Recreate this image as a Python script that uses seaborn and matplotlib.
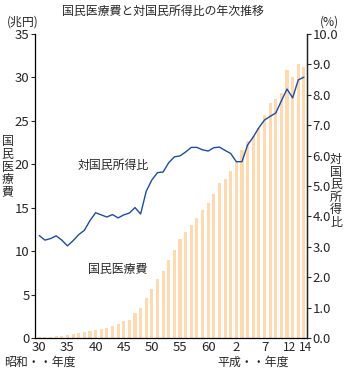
import matplotlib
matplotlib.use("Agg")
import matplotlib.pyplot as plt
import matplotlib.transforms as mtransforms
import seaborn as sns
import pandas as pd
import numpy as np

# ---- data ----
years = [f"S{y}" for y in range(30, 64)] + [f"H{y}" for y in range(1, 15)]
expenditure = [0.10, 0.15, 0.15, 0.20, 0.27, 0.35, 0.42, 0.54, 0.65, 0.80,
               0.92, 1.00, 1.15, 1.38, 1.60, 1.90, 2.10, 2.90, 3.50, 4.60,
               5.60, 6.80, 7.70, 9.00, 10.10, 11.40, 12.20, 13.00, 13.80, 14.70,
               15.60, 16.60, 17.80, 18.30, 19.25, 20.30, 21.70, 22.70, 23.20, 24.20,
               25.70, 27.10, 27.50, 28.20, 30.80, 30.10, 31.60, 31.20]
ratio = [3.37, 3.22, 3.27, 3.36, 3.22, 3.03, 3.20, 3.40, 3.54, 3.86,
         4.12, 4.05, 3.98, 4.06, 3.95, 4.05, 4.11, 4.29, 4.08, 4.83,
         5.20, 5.44, 5.46, 5.77, 5.96, 5.99, 6.12, 6.27, 6.27, 6.19,
         6.15, 6.26, 6.28, 6.17, 6.07, 5.80, 5.80, 6.35, 6.61, 6.92,
         7.17, 7.29, 7.40, 7.80, 8.19, 7.90, 8.49, 8.58]
xtick_pos = [0, 5, 10, 15, 20, 25, 30, 35, 40, 45, 47]
xtick_labels = ["30", "35", "40", "45", "50", "55", "60", "2", "7", "12", "14"]
left_ticks = [0, 5, 10, 15, 20, 25, 30, 35]
right_ticks = [0, 1, 2, 3, 4, 5, 6, 7, 8, 9, 10]

df = pd.DataFrame({"year": years, "exp": expenditure, "ratio": ratio,
                   "idx": np.arange(len(years))})

sns.set_style("ticks")
plt.rcParams["font.family"] = ["Noto Sans CJK JP", "DejaVu Sans"]

fig = plt.figure(figsize=(3.45, 3.71), dpi=100)
ax = fig.add_axes([35/345, 33/371, (307-35)/345, (338-34)/371])

sns.barplot(data=df, x="year", y="exp", color="#FFD9B0", saturation=1,
            width=0.55, ax=ax, linewidth=0)
ax.set_ylim(0, 35)
ax.set_xlim(-0.76, 47.55)
ax.set_yticks(left_ticks)
ax.set_yticklabels([str(t) for t in left_ticks], fontsize=9.5)
ax.set_xticks(xtick_pos)
ax.set_xticklabels(xtick_labels, fontsize=9.5)
ax.tick_params(axis="x", length=0, pad=2)
ax.tick_params(axis="y", length=3, width=0.8, pad=1)
ax.set_xlabel("")
ax.set_ylabel("")
for s in ["left", "bottom", "right"]:
    ax.spines[s].set_linewidth(0.9)
    ax.spines[s].set_color("black")
ax.spines["top"].set_visible(False)

# nudge the adjacent "12" and "14" labels apart so they just touch
xlabels = ax.get_xticklabels()
xlabels[-2].set_fontsize(8.5)
xlabels[-1].set_fontsize(8.5)
xlabels[-2].set_transform(xlabels[-2].get_transform() +
                          mtransforms.ScaledTranslation(-3/100, 0, fig.dpi_scale_trans))
xlabels[-1].set_transform(xlabels[-1].get_transform() +
                          mtransforms.ScaledTranslation(2/100, 0, fig.dpi_scale_trans))

ax2 = ax.twinx()
sns.lineplot(data=df, x="idx", y="ratio", color="#1C4DA1", linewidth=1.0, ax=ax2)
ax2.set_ylim(0, 10)
ax2.set_xlim(-0.76, 47.55)
ax2.set_yticks(right_ticks)
ax2.set_yticklabels([f"{t:.1f}" for t in right_ticks], fontsize=9.5)
ax2.tick_params(axis="y", length=3, width=0.8, pad=1)
ax2.set_xlabel("")
ax2.set_ylabel("")
ax2.spines["top"].set_visible(False)
ax2.spines["right"].set_linewidth(0.9)
ax2.spines["left"].set_visible(False)
ax2.spines["bottom"].set_visible(False)

def fx(px):
    return px / 345
def fy(py):
    return 1 - py / 371

fs = 8.6
fig.text(fx(163), fy(11), "国民医療費と対国民所得比の年次推移", ha="center", va="center", fontsize=fs)
fig.text(fx(23), fy(22), "(兆円)", ha="center", va="center", fontsize=fs)
fig.text(fx(329), fy(22), "(%)", ha="center", va="center", fontsize=fs)
fig.text(fx(7.5), fy(167), "国\n民\n医\n療\n費", ha="center", va="center", fontsize=fs, linespacing=0.95)
fig.text(fx(336), fy(191), "対\n国\n民\n所\n得\n比", ha="center", va="center", fontsize=fs, linespacing=0.95)
fig.text(fx(113), fy(165), "対国民所得比", ha="center", va="center", fontsize=fs)
fig.text(fx(118), fy(270), "国民医療費", ha="center", va="center", fontsize=fs)
fig.text(fx(40), fy(362), "昭和・・年度", ha="center", va="center", fontsize=fs)
fig.text(fx(253), fy(362), "平成・・年度", ha="center", va="center", fontsize=fs)

fig.savefig("out.png", dpi=100)
